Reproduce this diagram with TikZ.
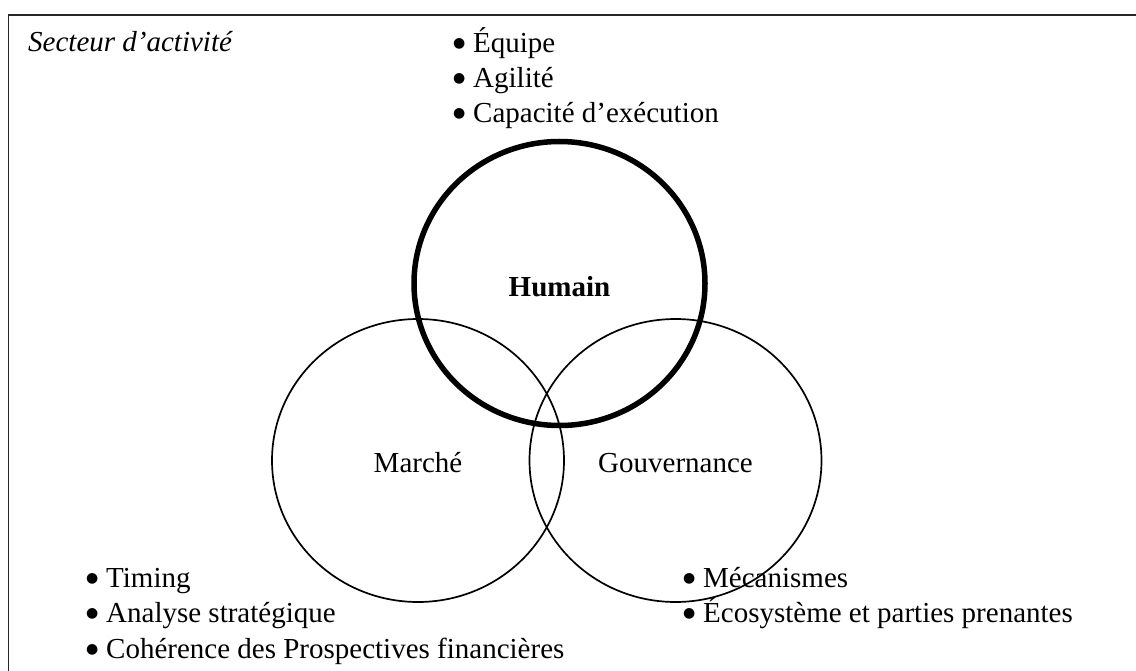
\documentclass[tikz,border=0pt]{standalone}
\usepackage{fontspec}
\setmainfont{Liberation Serif}
\newfontfamily\bulfont{DejaVu Sans}
\usetikzlibrary{shapes.geometric}
\newcommand\itembul{\makebox[20pt][l]{\raisebox{5pt}{\bulfont\fontsize{14}{14}\selectfont ●}}}
\begin{document}
\begin{tikzpicture}[x=1pt,y=-1pt,
  txt/.style={inner sep=0pt, anchor=base west, font=\fontsize{29}{35}\selectfont},
  ctxt/.style={inner sep=0pt, anchor=base, font=\fontsize{29}{35}\selectfont},
  ring/.style={draw, ellipse, inner sep=0pt, line width=1.7pt},
  thickring/.style={ring, line width=5.5pt},
  frameline/.style={line width=1.8pt, draw=black!85}
]
\useasboundingbox (0,0) rectangle (1136,671);
% frame (left and top edges visible)
\coordinate (fbl) at (8.5,690);
\coordinate (ftl) at (8.5,15);
\coordinate (ftr) at (1160,15);
\draw[frameline] (fbl) -- (ftl) -- (ftr);

% circles
\node[ring, minimum width=292pt, minimum height=283pt] (marche) at (418,460.5) {};
\node[ring, minimum width=292pt, minimum height=283pt] (gouv) at (675.5,460.5) {};
\node[thickring, minimum width=291pt, minimum height=284pt] (humain) at (559.5,283.5) {};

% labels in circles
\node[ctxt, font=\fontsize{29}{35}\selectfont\bfseries] (lh) at (559.5,297) {Humain};
\node[ctxt] (lm) at (418,472) {Marché};
\node[ctxt] (lg) at (675.5,472) {Gouvernance};

% title
\node[txt, font=\fontsize{29}{35}\selectfont\itshape] (sect) at (28,52) {Secteur d’activité};

% top list
\node[txt] (t1) at (453,53) {\itembul Équipe};
\node[txt] (t2) at (453,88) {\itembul Agilité};
\node[txt] (t3) at (453,123) {\itembul Capacité d’exécution};

% bottom left list
\node[txt] (b1) at (86,587) {\itembul Timing};
\node[txt] (b2) at (86,622.5) {\itembul Analyse stratégique};
\node[txt] (b3) at (86,658) {\itembul Cohérence des Prospectives financières};

% bottom right list
\node[txt] (r1) at (683,587) {\itembul Mécanismes};
\node[txt] (r2) at (683,622.5) {\itembul Écosystème et parties prenantes};
\end{tikzpicture}
\end{document}
